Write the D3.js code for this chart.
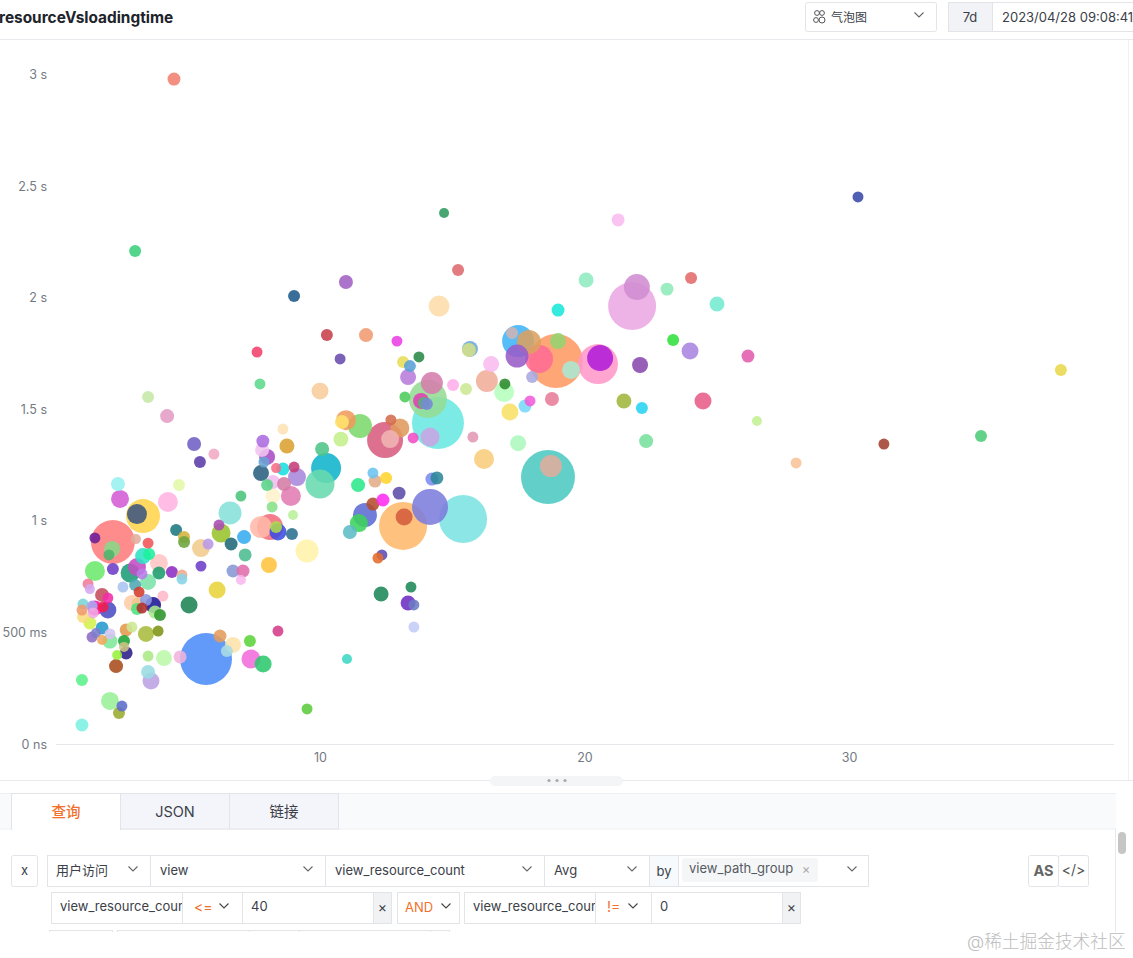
<!DOCTYPE html>
<html><head><meta charset="utf-8">
<style>html,body{margin:0;padding:0;background:#fff;overflow:hidden}svg{display:block}
text{font-family:Inter,"Noto Sans CJK SC",sans-serif}</style>
<script src="https://cdn.jsdelivr.net/npm/d3@7"></script></head><body>
<script>
// view_resource_count per bubble
const resourceCount = [
4.48,30.34,14.69,21.27,3.01,15.22,24.03,20.06,9.02,10.98,
23.12,14.5,21.8,21.98,25.01,19.0,10.26,11.74,12.91,7.62,
10.76,23.35,23.99,26.18,38.01,17.49,17.9,18.92,17.26,19.0,
18.28,17.45,19.49,20.51,20.59,22.1,18.02,13.14,13.4,13.74,
13.33,14.23,14.08,13.82,13.93,14.04,14.46,14.16,13.21,15.03,
15.52,15.67,15.63,16.47,16.31,16.99,16.96,17.94,17.75,18.77,
17.18,21.49,22.17,24.48,15.78,13.52,16.2,17.49,22.33,18.62,
18.73,26.52,28.0,31.32,34.99,8.6,8.75,7.84,7.81,8.0,
7.88,7.77,8.34,8.6,9.02,9.13,8.22,8.0,8.64,8.9,
8.22,8.19,7.01,6.6,8.98,7.77,8.11,8.41,8.34,8.94,
6.26,6.18,6.64,7.13,7.17,8.07,9.51,6.71,7.09,7.01,
6.11,10.08,10.23,10.0,10.98,10.83,11.51,10.79,12.46,12.65,
13.02,12.68,11.44,12.0,12.08,12.5,12.99,12.0,12.38,11.7,
11.47,11.13,13.14,13.18,14.16,15.41,14.23,14.42,12.34,12.19,
12.31,13.44,13.33,13.55,13.55,11.02,9.51,8.41,2.36,4.67,
2.44,4.25,3.31,3.08,2.17,1.49,3.04,2.14,2.02,3.5,
4.56,4.86,4.86,5.5,5.77,3.31,3.54,1.49,2.17,3.08,
3.91,2.82,3.91,4.4,4.78,4.78,3.27,3.5,3.01,5.5,
1.23,1.3,1.76,1.98,1.98,2.55,3.16,3.42,4.06,2.89,
3.12,3.69,3.27,3.08,3.76,3.95,5.05,1.8,1.49,1.04,
1.0,1.38,1.04,1.42,1.3,1.76,2.06,1.38,1.53,1.76,
2.06,2.67,2.89,3.42,3.88,2.59,2.59,2.67,2.33,2.29,
3.5,4.1,4.71,5.69,6.22,6.71,6.48,7.35,7.39,7.85,
3.5,3.61,1.0,2.06,2.51,2.4,1.0,
3.5,4.22,5.24,5.46,5.99,7.73,10.0];
// loading time in milliseconds per bubble
const loadingTime = [
2979,2451,2379,2348,2209,2124,2088,2079,2007,2070,
2038,1962,1962,2047,1971,1944,1832,1832,1805,1756,
1725,1810,1761,1738,1676,1805,1801,1716,1841,1805,
1725,1738,1676,1702,1729,1698,1644,1711,1693,1734,
1644,1617,1546,1537,1528,1523,1438,1375,1555,1608,
1590,1770,1765,1702,1626,1613,1577,1537,1514,1546,
1487,1537,1505,1537,1375,1371,1277,1348,1357,1196,
1245,1447,1259,1344,1380,1411,1335,1357,1317,1286,
1263,1214,1236,1232,1241,1196,1174,1160,1165,1111,
1111,1062,1111,1035,1026,972,972,950,972,941,
945,981,896,927,847,802,865,775,775,735,
690,1322,1236,1165,1451,1443,1425,1366,1362,1366,
1416,1452,1160,1214,1178,1192,1124,1075,1093,1026,
990,950,977,1017,1062,1008,1187,1192,847,833,
672,703,632,623,524,381,157,506,1165,1160,
1098,1084,1021,1030,905,923,918,874,847,900,
959,927,905,878,896,842,851,775,784,793,
811,766,766,771,757,739,762,726,712,797,
717,694,668,654,600,703,681,645,663,632,
627,623,609,605,591,578,623,614,609,627,
600,618,569,587,542,520,493,479,497,466,
461,511,524,493,506,461,435,408,399,349,
394,385,390,381,484,444,417,461,381,358,
323,282,287,193,170,139,85,
1555,1469,1344,1263,1299,1613,1581];
// page-view weight per bubble
const viewWeight = [
42,30,25,42,36,36,36,56,36,49,
42,110,576,169,56,42,36,49,30,30,
30,36,72,42,36,256,144,729,36,64,
196,132,81,400,169,64,36,36,36,30,
64,121,361,64,36,36,676,90,30,36,
36,64,49,64,121,30,100,30,42,49,
72,56,36,72,30,30,100,64,49,729,
121,25,30,30,36,30,56,42,49,64,
30,64,25,42,30,81,49,36,49,100,
56,30,30,132,25,121,169,72,36,36,
90,30,42,49,42,64,132,42,42,25,
72,49,225,210,100,49,144,56,324,81,
90,30,49,30,42,36,42,42,42,144,
81,49,576,72,324,576,42,42,30,30,
56,30,56,30,30,25,30,30,49,36,
81,100,289,100,484,30,25,64,30,30,
36,36,36,81,30,64,36,100,36,81,
81,90,42,36,30,30,30,64,36,30,
30,25,49,30,72,30,30,36,30,64,
42,64,30,36,42,36,72,30,56,30,
30,30,36,30,42,42,30,30,25,25,
56,42,30,64,30,36,25,42,25,49,
30,64,42,676,42,64,36,36,90,72,
49,72,36,81,30,36,42,
36,49,49,36,30,30,72];
// view_path_group colour per bubble
const groupColor = [
"#f07f70","#3a4aa8","#2d9a5e","#f8bcf0","#3ccf7c","#de6a6e","#e26a6a","#8febc2","#1f5a8a","#a060c4",
"#8eeab8","#fddca8","#eaa8e2","#d08cd0","#74ead0","#18e8d8","#c8404c","#f09a70","#ea40e4","#f2406a",
"#6a4cac","#30e03c","#a884e0","#e25cae","#e8d84c","#40b4f8","#dca060","#ff9a64","#d0b4b4","#94d470",
"#ff6c94","#9a5cc8","#aae8d4","#ff98c8","#b01cd8","#8848ac","#a8a8e0","#e8dc58","#58a0d8","#2a8a48",
"#b87cdc","#d47cac","#94dc94","#e23cb4","#50b870","#7888d8","#6ae8e2","#c8a4e2","#4ccc5c","#ffaeea",
"#cce894","#6ca8d8","#d4e088","#f8bcf0","#f0ae98","#2e8a2e","#b4ffbc","#f25cda","#78daf8","#e87c98",
"#f8e068","#a0b63c","#28d2f0","#e85c88","#e498b4","#f24cc4","#f8cc7c","#acf8bc","#78e09c","#4ccac2",
"#e0ac9c","#c4f094","#f8c498","#a0402e","#4ccc78","#fde2b4","#dca030","#ac6ce0","#f0c4f0","#a84cc4",
"#68a4d4","#2a6080","#f86c88","#18e0e0","#c43c78","#a888dc","#f0bcf0","#58d488","#d47ca4","#e27cb4",
"#fff2cc","#88e088","#4cc47c","#88e0da","#b8f098","#ffb8a8","#f26c7c","#3c4ce0","#acd84c","#2a7090",
"#98c42c","#a84cb4","#206878","#38acf0","#4cbc90","#ffc43c","#fff2a8","#8898d4","#e26cac","#f8b8f0",
"#e8d43c","#4cc488","#10b4cc","#68daae","#f09a5c","#ffe26c","#7cd86c","#c4f08c","#da5c80","#f0b4b4",
"#e09a5c","#d46c4c","#2ce88c","#6cc4f0","#e2ac88","#ffd42c","#5c4ca8","#b44c2c","#ff2cf0","#5c6cd4",
"#3cd45c","#5cbcc4","#ffb86c","#d45c3c","#7c7cdc","#7ce2e2","#7c8cf0","#2c8898","#5c4cb4","#e26c2c",
"#1c8858","#1c8858","#6c2cc4","#6c7cc4","#c4ccf8","#3cd8c4","#5ccc3c","#d43c88","#98f0f0","#e2f8a8",
"#d45cd4","#ffb4e2","#ffd44c","#3c5480","#ff7c7c","#6c1c98","#e2ac9c","#88d888","#4cb46c","#f25454",
"#1c7880","#d4b43c","#6ca43c","#f0cc8c","#b898e8","#2ce2c4","#1cf09c","#6ce86c","#6c3cc8","#c44cc4",
"#ffc4c4","#1c9c78","#1c9c6c","#8c2cc4","#f0a88c","#88d4e8","#b87ce8","#7ce2a8","#4ca8b4","#6c3cc8",
"#f07c98","#d4a8f0","#c44c5c","#f22ca8","#4c4cc4","#a8c4f0","#d43c2c","#8c98e0","#ffb8c8","#ffcca8",
"#f0c48c","#1c1494","#b42c2c","#4ce27c","#a8e88c","#2c942c","#1c8454","#f21c4c","#f21ca8","#7cd4d4",
"#f09a6c","#a8a8f0","#f8dc7c","#f0a8e2","#d4f04c","#2498cc","#d4c4f0","#8c6cc4","#7c7ccc","#f0a85c",
"#7ce898","#e29a4c","#cce894","#a8bc3c","#7c9414","#1ca434","#ccc484","#2c1c88","#98f03c","#a84c1c",
"#ace888","#bcf8a8","#f0b4dc","#4c8cf8","#e29c5c","#fde2a8","#a8dce2","#5cd43c","#f26cdc","#2cc86c",
"#98dce2","#bca0e2","#5cf08c","#98f098","#5c6ccc","#98ac2c","#7cf0e2",
"#c4e8a8","#e29cc4","#7060c4","#5c3ca8","#f0a8c4","#5cd88c","#f8cc9c"];
const xTicks = [10,20,30];
const yTicks = [0,500,1000,1500,2000,2500,3000];
const yLabels = ["0 ns","500 ms","1 s","1.5 s","2 s","2.5 s","3 s"];

const W=1133,H=958;
const svg=d3.select("body").append("svg").attr("width",W).attr("height",H);
const bubbleAlpha=0.88;
const x=d3.scaleLinear().domain([0,40]).range([55.5,1113.5]);
const y=d3.scaleLinear().domain([0,3000]).range([744,74.4]);
const r=d3.scaleSqrt().domain([0,729]).range([0,27]);

// axes
const gx=svg.append("g").attr("transform","translate(0,744)").call(d3.axisBottom(x).tickValues(xTicks).tickSize(0).tickPadding(9));
gx.select(".domain").attr("stroke","#e6e8ec");
gx.selectAll("text").attr("fill","#747a82").attr("font-size",12.5);
const gy=svg.append("g").attr("transform","translate(47,0)").call(d3.axisLeft(y).tickValues(yTicks).tickSize(0).tickPadding(0).tickFormat((d,i)=>yLabels[i]));
gy.select(".domain").remove();
gy.selectAll("text").attr("fill","#747a82").attr("font-size",12.5);

// bubbles
const rows=d3.range(resourceCount.length).sort((a,b)=>d3.descending(viewWeight[a],viewWeight[b]));
svg.append("g").selectAll("circle").data(rows).join("circle")
 .attr("cx",i=>x(resourceCount[i])).attr("cy",i=>y(loadingTime[i])).attr("r",i=>r(viewWeight[i]))
 .attr("fill",i=>groupColor[i]).attr("fill-opacity",bubbleAlpha);

// page chrome
const ink="#3b4048",line="#e2e4e8",orange="#f0702c";
const ui=svg.append("g");
function rect(a,b,w,h,o={}){return ui.append("rect").attr("x",a).attr("y",b).attr("width",w).attr("height",h).attr("fill",o.fill||"#fff").attr("stroke",o.stroke===undefined?line:o.stroke).attr("rx",o.rx||0);}
function hl(a,b,yy,c){ui.append("line").attr("x1",a).attr("x2",b).attr("y1",yy).attr("y2",yy).attr("stroke",c||"#e8e9ec");}
function txt(s,a,b,o={}){return ui.append("text").text(s).attr("x",a).attr("y",b).attr("fill",o.fill||ink).attr("font-size",o.size||13).attr("font-weight",o.weight||400).attr("text-anchor",o.anchor||"start");}
function chev(a,b,c){ui.append("path").attr("d",`M${a-4.5},${b-2.5}L${a},${b+2}L${a+4.5},${b-2.5}`).attr("fill","none").attr("stroke",c||"#666").attr("stroke-width",1.1);}

// header
txt("resourceVsloadingtime",-1,23,{size:15.4,weight:700,fill:"#20242a"});
hl(0,1133,39.5);
ui.append("line").attr("x1",1128.5).attr("x2",1128.5).attr("y1",40).attr("y2",780).attr("stroke","#f0f1f3");
rect(805.5,2.5,131,29,{rx:2});
[[817,13],[822,13],[816,20],[822,20]].forEach(([a,b],i)=>ui.append("circle").attr("cx",a).attr("cy",b).attr("r",i===3?3:2.4).attr("fill","none").attr("stroke","#555"));
txt("气泡图",831,22,{size:12});
chev(919,15);
rect(948.5,2.5,44,29,{fill:"#f2f3f7"});
txt("7d",970,22,{anchor:"middle"});
rect(992.5,2.5,150,29);
txt("2023/04/28 09:08:41",1002,22);

// divider and drag handle
hl(0,1133,780.5);
rect(490,776,133,10,{fill:"#f4f5f6",stroke:"none",rx:5});
[549,557,565].forEach(a=>ui.append("circle").attr("cx",a).attr("cy",780.5).attr("r",1.6).attr("fill","#aaa"));

// tabs
rect(0,793.5,1116,35.5,{fill:"#f8fafc",stroke:"none"});
hl(0,1116,793.5,"#eef0f2");hl(0,1116,829,"#eef0f2");
rect(11.5,793.5,109,36,{fill:"#fff"});
ui.append("line").attr("x1",12).attr("x2",120).attr("y1",829).attr("y2",829).attr("stroke","#fff").attr("stroke-width",2);
rect(120.5,793.5,109,35.5,{fill:"#f4f5fa"});
rect(229.5,793.5,109,35.5,{fill:"#f4f5fa"});
txt("查询",66,817,{anchor:"middle",size:14.5,fill:orange,weight:500});
txt("JSON",175,817,{anchor:"middle",size:14.5});
txt("链接",284,817,{anchor:"middle",size:14.5});

// scroller
ui.append("line").attr("x1",1115.5).attr("x2",1115.5).attr("y1",829).attr("y2",932).attr("stroke","#e8e9ec");
rect(1118,832,8,22,{fill:"#c6c6c6",stroke:"none",rx:4});

// row 1
rect(11.5,855.5,26,31,{rx:2});txt("x",24.5,875,{anchor:"middle"});
rect(47.5,855.5,103,31);txt("用户访问",56,875);chev(133,869);
rect(150.5,855.5,175,31);txt("view",160,875);chev(308,869);
rect(325.5,855.5,219,31);txt("view_resource_count",335,875);chev(527,869);
rect(544.5,855.5,105,31);txt("Avg",554,875);chev(632,869);
rect(649.5,855.5,29,31,{fill:"#f7fafc"});txt("by",664,876,{anchor:"middle"});
rect(678.5,855.5,190,31);
rect(682,858,136,24,{fill:"#f5f6f8",stroke:"none",rx:3});
txt("view_path_group",689,873,{fill:"#555b63"});txt("×",806,874,{anchor:"middle",fill:"#aaa",size:13});chev(852,869);
rect(1028.5,855.5,30,31,{rx:2});txt("AS",1043.5,876,{anchor:"middle",size:14.5,weight:700,fill:"#666"});
rect(1058.5,855.5,30,31,{rx:2});txt("</>",1073.5,875,{anchor:"middle",size:14,fill:"#555"});

// row 2
rect(51.5,892.5,131,31);
ui.append("defs").append("clipPath").attr("id","c1").append("rect").attr("x",52).attr("y",893).attr("width",130).attr("height",30);
ui.append("defs").append("clipPath").attr("id","c2").append("rect").attr("x",465).attr("y",893).attr("width",130).attr("height",30);
txt("view_resource_count",60,911).attr("clip-path","url(#c1)");
rect(182.5,892.5,60,31);txt("<=",194,912,{fill:orange,size:14});chev(224,906,"#444");
rect(242.5,892.5,131,31);txt("40",251,911);
rect(373.5,892.5,18,31,{fill:"#f1f2f3"});txt("×",382.5,912,{anchor:"middle",size:14});
rect(397.5,892.5,62,31);txt("AND",405,912,{fill:orange});chev(446,906,"#444");
rect(464.5,892.5,131,31);txt("view_resource_count",473,911).attr("clip-path","url(#c2)");
rect(595.5,892.5,56,31);txt("!=",607,912,{fill:orange,size:14});chev(633,906,"#444");
rect(651.5,892.5,131,31);txt("0",660,911);
rect(782.5,892.5,18,31,{fill:"#f1f2f3"});txt("×",791.5,912,{anchor:"middle",size:14});

// row 3, cut off by the page edge
[[49,63],[117,132],[249,50],[299,131],[430,19]].forEach(([a,w])=>rect(a+.5,930.5,w,12));
rect(0,932,W,26,{stroke:"none"});
txt("@稀土掘金技术社区",967,948,{size:17.7,fill:"#bdbdbd",weight:300});
</script></body></html>
